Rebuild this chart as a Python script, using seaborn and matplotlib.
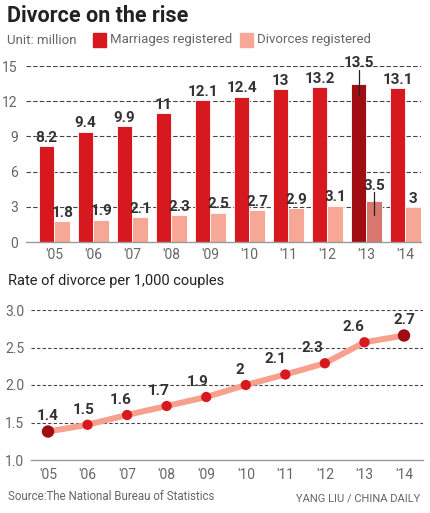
import matplotlib
matplotlib.use("Agg")
import matplotlib.pyplot as plt
from matplotlib.patches import Rectangle
import seaborn as sns
import pandas as pd

# data
years = ["'05", "'06", "'07", "'08", "'09", "'10", "'11", "'12", "'13", "'14"]
marriages = [8.2, 9.4, 9.9, 11, 12.1, 12.4, 13, 13.2, 13.5, 13.1]
divorces = [1.8, 1.9, 2.1, 2.3, 2.5, 2.7, 2.9, 3.1, 3.5, 3.0]
rate = [1.38, 1.47, 1.60, 1.72, 1.84, 2.00, 2.14, 2.29, 2.57, 2.66]
rate_labels = ["1.4", "1.5", "1.6", "1.7", "1.9", "2", "2.1", "2.3", "2.6", "2.7"]
top_ticks = [0, 3, 6, 9, 12, 15]
bottom_ticks = [1.0, 1.5, 2.0, 2.5, 3.0]

RED = "#d7191f"
DARK = "#a00d12"
SALMON = "#f6a796"
SALMON_DARK = "#d8776d"
LINE = "#f7a08e"
TXT = "#333333"
GREY = "#666666"

sns.set_theme(style="white")
plt.rcParams["font.family"] = ["Roboto", "DejaVu Sans"]

W, H = 431, 513
fig = plt.figure(figsize=(W / 100, H / 100), dpi=100)


def box(x0, y0, x1, y1):
    # pixel box (from top-left) -> figure fraction rect
    return [x0 / W, 1 - y1 / H, (x1 - x0) / W, (y1 - y0) / H]


def fx(x):
    return x / W


def fy(y):
    return 1 - y / H


# ---- title / legend ----
fig.text(fx(7), fy(16), "Divorce on the rise", fontsize=15.5, fontweight="bold",
         color="#222222", va="center", ha="left")
fig.text(fx(7), fy(40), "Unit: million", fontsize=9.5, color=GREY, va="center")
fig.add_artist(Rectangle((fx(93), fy(47)), 13 / W, 14 / H, color=RED,
                         transform=fig.transFigure))
fig.text(fx(110), fy(40), "Marriages registered", fontsize=9.5, color=GREY, va="center")
fig.add_artist(Rectangle((fx(240), fy(47)), 13 / W, 14 / H, color=SALMON,
                         transform=fig.transFigure))
fig.text(fx(257), fy(40), "Divorces registered", fontsize=9.5, color=GREY, va="center")

# ---- top bar chart ----
ax = fig.add_axes(box(26, 66, 421, 242))
df = pd.DataFrame({
    "year": years * 2,
    "kind": ["Marriages registered"] * len(years) + ["Divorces registered"] * len(years),
    "value": marriages + divorces,
})
sns.barplot(data=df, x="year", y="value", hue="kind", palette=[RED, SALMON],
            saturation=1, width=0.8, legend=False, edgecolor="white",
            linewidth=0.6, ax=ax)

ax.containers[0][8].set_facecolor(DARK)
ax.containers[1][8].set_facecolor(SALMON_DARK)

for cont, vals in zip(ax.containers[:2], [marriages, divorces]):
    for i, (bar, v) in enumerate(zip(cont, vals)):
        cx = bar.get_x() + bar.get_width() / 2
        off = 7
        if i == 8:
            off = 16 if vals is marriages else 12
            lo = 1.0 if vals is marriages else 1.2
            hi = 1.15 if vals is marriages else 0.75
            ax.plot([cx, cx], [v - lo, v + hi], color="#222222", lw=0.9,
                    zorder=5, clip_on=False)
        ax.annotate(f"{v:g}", (cx, v), xytext=(0, off), textcoords="offset points",
                    ha="center", va="center_baseline", fontsize=11,
                    fontweight="bold", color=TXT, clip_on=False, zorder=6)

ax.set_xlim(-0.73, 9.4)
ax.set_ylim(0, 15)
ax.set_yticks(top_ticks)
ax.set_yticklabels([str(t) for t in top_ticks])
for t in top_ticks[1:]:
    ax.axhline(t, color="#444444", lw=0.8, ls=(0, (4, 2)), zorder=0)
ax.set_xlabel("")
ax.set_ylabel("")
for s in ["top", "right", "left"]:
    ax.spines[s].set_visible(False)
ax.spines["bottom"].set_color("#999999")
ax.spines["bottom"].set_linewidth(1)
ax.tick_params(axis="y", length=0, pad=6, labelsize=10, labelcolor=GREY)
ax.tick_params(axis="x", length=0, pad=4, labelsize=10, labelcolor=GREY)
ax.grid(False)

# ---- subtitle ----
fig.text(fx(8), fy(281), "Rate of divorce per 1,000 couples", fontsize=10.5,
         color="#222222", va="center")

# ---- bottom line chart ----
ax2 = fig.add_axes(box(31, 310, 423, 460))
xs = list(range(len(years)))
rdf = pd.DataFrame({"x": xs, "rate": rate})
sns.lineplot(data=rdf, x="x", y="rate", color=LINE, lw=4.3, ax=ax2, zorder=2)
mcol = [DARK if i in (0, len(xs) - 1) else RED for i in xs]
msize = [80 if i in (0, len(xs) - 1) else 55 for i in xs]
ax2.scatter(xs, rate, c=mcol, s=msize, zorder=3, linewidths=0)

label_dx = [0, -3, -5, -6, -6, -4, -7, -9, -8, 0]
for x, v, lab, dx in zip(xs, rate, rate_labels, label_dx):
    ax2.annotate(lab, (x, v), xytext=(dx, 12), textcoords="offset points",
                 ha="center", va="center_baseline", fontsize=11,
                 fontweight="bold", color=TXT, zorder=6)

ax2.set_xlim(-0.43, 9.48)
ax2.set_ylim(1.0, 3.0)
ax2.set_xticks(xs)
ax2.set_xticklabels(years)
ax2.set_yticks(bottom_ticks)
ax2.set_yticklabels([f"{t:.1f}" for t in bottom_ticks])
for t in bottom_ticks[1:]:
    ax2.axhline(t, color="#444444", lw=0.8, ls=(0, (3, 2)), zorder=0)
ax2.set_xlabel("")
ax2.set_ylabel("")
for s in ["top", "right", "left"]:
    ax2.spines[s].set_visible(False)
ax2.spines["bottom"].set_color("#999999")
ax2.spines["bottom"].set_linewidth(1)
ax2.tick_params(axis="y", length=0, pad=5, labelsize=10, labelcolor=GREY)
ax2.tick_params(axis="x", length=0, pad=6, labelsize=10, labelcolor=GREY)
ax2.grid(False)

# ---- footer ----
fig.text(fx(8), fy(497), "Source:The National Bureau of Statistics", fontsize=8.3,
         color=GREY, va="center")
fig.text(fx(420), fy(499), "YANG LIU / CHINA DAILY", fontsize=8, color=GREY,
         va="center", ha="right")

fig.savefig("out.png", dpi=100)
